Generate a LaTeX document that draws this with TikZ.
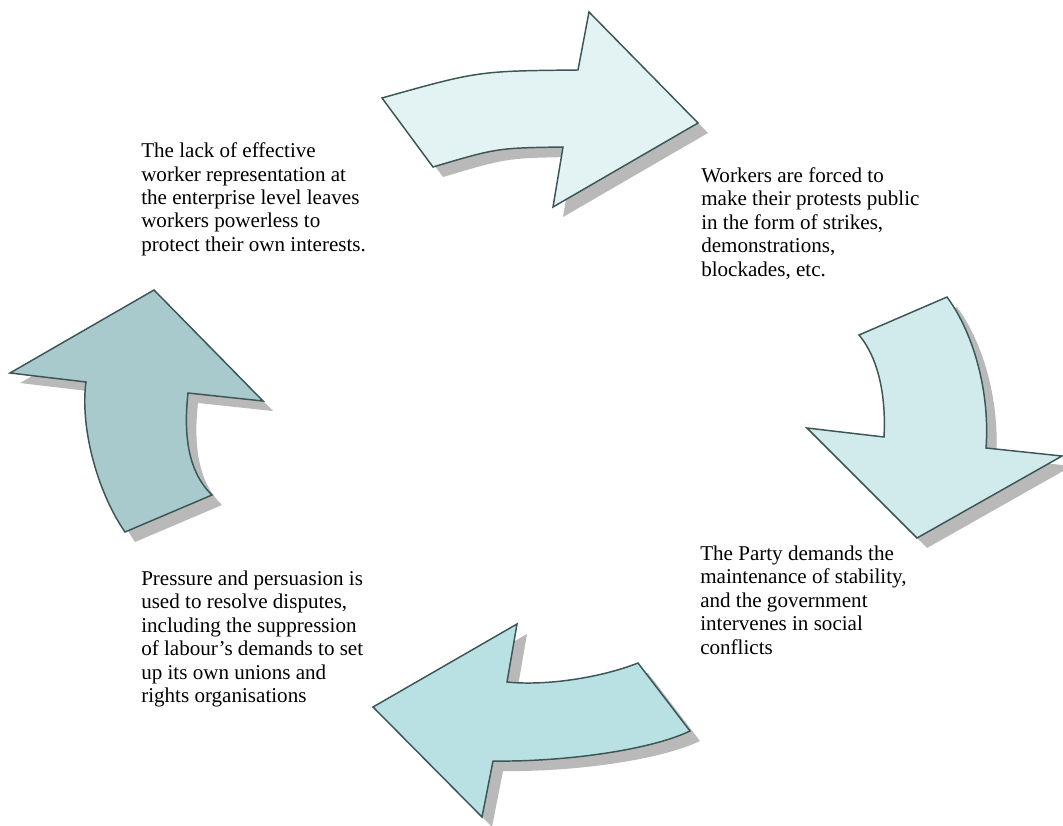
\documentclass[tikz,border=0pt]{standalone}
\usepackage{fontspec}
\setmainfont{Liberation Serif}
\usepackage{tikz}
\usetikzlibrary{shadows}
\definecolor{arrowline}{RGB}{60,85,85}
\definecolor{fillone}{RGB}{227,243,243}
\definecolor{filltwo}{RGB}{209,235,236}
\definecolor{fillthree}{RGB}{185,225,228}
\definecolor{fillfour}{RGB}{168,202,204}
\definecolor{shadowgray}{RGB}{185,185,185}
\newcommand{\capfont}{\fontsize{15.8pt}{17.55pt}\selectfont}
\tikzstyle{bigarrow} = [draw=arrowline, line width=1.1pt, line join=miter, drop shadow={shadow xshift=7.5pt, shadow yshift=-7.5pt, fill=shadowgray, opacity=1}]
\tikzstyle{caption} = [anchor=north west, inner sep=0pt, align=left, font=\capfont]

\begin{document}
\begin{tikzpicture}[x=0.75pt, y=-0.75pt]
		\useasboundingbox (0,0) rectangle (1063,825);
		% top arrow, pointing right
		\draw [bigarrow, fill=fillone] (382,98) .. controls (478,71) .. (578,70) -- (589,12) -- (698,123) -- (553,207) -- (563,147) .. controls (497,148) .. (433,167) -- cycle;
		% right arrow, pointing down
		\draw [bigarrow, fill=filltwo] (859,335) -- (947,297) .. controls (975,335) and (990,395) .. (986,448) -- (1062,456) -- (917,538) -- (807,428) -- (884,437) .. controls (886,400) and (880,360) .. (859,335) -- cycle;
		% bottom arrow, pointing left
		\draw [bigarrow, fill=fillthree] (373,707) -- (517,624) -- (507,682) .. controls (545,686) and (600,678) .. (638,663) -- (690,731) .. controls (648,751) and (560,762) .. (493,761) -- (482,817) -- cycle;
		% left arrow, pointing up
		\draw [bigarrow, fill=fillfour] (154,290) -- (263,401) -- (188,393) .. controls (184,430) and (186,470) .. (212,495) -- (125,532) .. controls (96,490) and (80,425) .. (86,382) -- (10,373) -- cycle;
		
		\node (Caption01) [caption] at (141,142.6) {The lack of effective\\worker representation at\\the enterprise level leaves\\workers powerless to\\protect their own interests.};
		\node (Caption02) [caption] at (701,167.3) {Workers are forced to\\make their protests public\\in the form of strikes,\\demonstrations,\\blockades, etc.};
		\node (Caption03) [caption] at (700,545.6) {The Party demands the\\maintenance of stability,\\and the government\\intervenes in social\\conflicts};
		\node (Caption04) [caption] at (141,570.6) {Pressure and persuasion is\\used to resolve disputes,\\including the suppression\\of labour’s demands to set\\up its own unions and\\rights organisations};
\end{tikzpicture}
\end{document}
